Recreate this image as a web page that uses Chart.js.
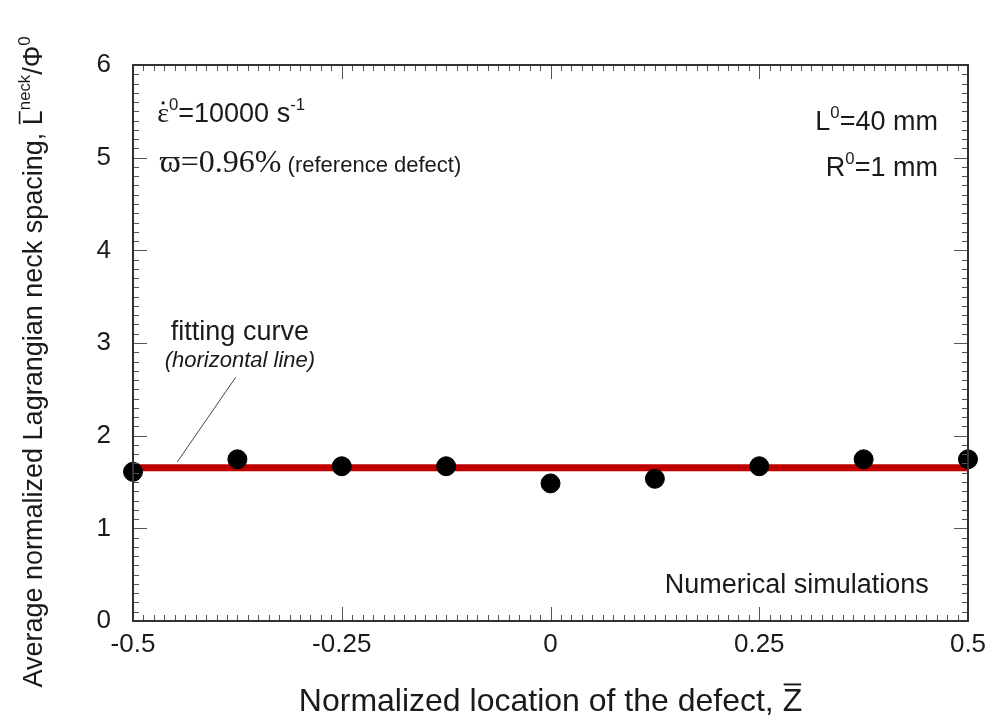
<!DOCTYPE html>
<html>
<head>
<meta charset="utf-8">
<script src="https://cdn.jsdelivr.net/npm/chart.js@4.4.1/dist/chart.umd.min.js"></script>
<style>
  html, body { margin: 0; padding: 0; background: #fff; }
  #wrap { width: 992px; height: 724px; }
</style>
</head>
<body>
<div id="wrap"><canvas id="myChart" width="992" height="724"></canvas></div>
<script>
// normalized defect location and simulated neck spacing
const zLocation = [-0.5, -0.375, -0.25, -0.125, 0, 0.125, 0.25, 0.375, 0.5];
const neckSpacing = [1.61, 1.745, 1.67, 1.67, 1.485, 1.535, 1.67, 1.745, 1.745];
// fitting curve (horizontal line)
const fitLevel = 1.655;
const fitRange = [-0.5, 0.5];
// axis ticks
const xTickValues = [-0.5, -0.25, 0, 0.25, 0.5];
const yTickValues = [0, 1, 2, 3, 4, 5, 6];

const SANS = "'Liberation Sans', Arial, sans-serif";
const SERIF = "'Liberation Serif', 'Times New Roman', serif";

// draw a line of text made of parts (superscript, overline, dot above)
function drawRich(ctx, x, y, parts, align) {
  const items = parts.map((p) => {
    const fs = p.sup ? p.size * 0.62 : p.size;
    const font = (p.italic ? "italic " : "") + fs + "px " + (p.family || SANS);
    ctx.font = font;
    return { ...p, font, w: ctx.measureText(p.t).width };
  });
  const total = items.reduce((a, b) => a + b.w, 0);
  let cx = x;
  if (align === "right") cx = x - total;
  if (align === "center") cx = x - total / 2;
  ctx.textBaseline = "alphabetic";
  ctx.textAlign = "left";
  items.forEach((it) => {
    ctx.font = it.font;
    const dy = it.sup ? -it.size * 0.45 : 0;
    ctx.fillText(it.t, cx, y + dy);
    if (it.over) {
      ctx.fillRect(cx + 1, y - it.size * 0.86, it.w - 2, Math.max(1.3, it.size * 0.06));
    }
    if (it.dot) {
      ctx.beginPath();
      ctx.arc(cx + it.w / 2, y - it.size * 0.68, 1.6, 0, Math.PI * 2);
      ctx.fill();
    }
    cx += it.w;
  });
}

const frameAndText = {
  id: "frameAndText",
  afterDatasetsDraw(chart) {
    const { ctx, chartArea: a, scales } = chart;
    const xs = scales.x, ys = scales.y;
    const px = (v) => xs.getPixelForValue(v);
    const py = (v) => ys.getPixelForValue(v);
    ctx.save();
    // inward ticks on all four sides
    ctx.strokeStyle = "#555";
    ctx.lineWidth = 1;
    ctx.beginPath();
    for (let i = 0; i <= 80; i++) {
      const x = Math.round(px(-0.5 + i * 0.0125)) + 0.5;
      const len = i % 20 === 0 ? 14 : 6;
      ctx.moveTo(x, a.bottom); ctx.lineTo(x, a.bottom - len);
      ctx.moveTo(x, a.top); ctx.lineTo(x, a.top + len);
    }
    for (let i = 0; i <= 60; i++) {
      const y = Math.round(py(i * 0.1)) + 0.5;
      const len = i % 10 === 0 ? 14 : 6;
      ctx.moveTo(a.left, y); ctx.lineTo(a.left + len, y);
      ctx.moveTo(a.right, y); ctx.lineTo(a.right - len, y);
    }
    ctx.stroke();
    ctx.strokeStyle = "#333";
    ctx.lineWidth = 2;
    ctx.strokeRect(a.left, a.top, a.right - a.left, a.bottom - a.top);

    // leader line to fitting curve
    ctx.strokeStyle = "#444";
    ctx.lineWidth = 1;
    ctx.beginPath();
    ctx.moveTo(px(-0.377), py(2.63));
    ctx.lineTo(px(-0.447), py(1.716));
    ctx.stroke();

    ctx.fillStyle = "#1a1a1a";
    drawRich(ctx, px(-0.471), py(5.385), [
      { t: "ε", size: 28, family: SERIF, dot: true },
      { t: "0", size: 27, sup: true },
      { t: "=10000 s", size: 27 },
      { t: "-1", size: 27, sup: true },
    ], "left");
    drawRich(ctx, px(-0.468), py(4.845), [
      { t: "ϖ=0.96%", size: 32, family: SERIF },
      { t: " (reference defect)", size: 22 },
    ], "left");
    drawRich(ctx, px(0.464), py(5.30), [
      { t: "L", size: 27 }, { t: "0", size: 27, sup: true }, { t: "=40 mm", size: 27 },
    ], "right");
    drawRich(ctx, px(0.464), py(4.80), [
      { t: "R", size: 27 }, { t: "0", size: 27, sup: true }, { t: "=1 mm", size: 27 },
    ], "right");
    drawRich(ctx, px(-0.372), py(3.03), [{ t: "fitting curve", size: 27 }], "center");
    drawRich(ctx, px(-0.372), py(2.74), [{ t: "(horizontal line)", size: 22, italic: true }], "center");
    drawRich(ctx, px(0.453), py(0.30), [{ t: "Numerical simulations", size: 27 }], "right");

    // axis titles
    drawRich(ctx, (a.left + a.right) / 2, 711, [
      { t: "Normalized location of the defect, ", size: 32 },
      { t: "Z", size: 32, over: true },
    ], "center");
    ctx.save();
    ctx.translate(42, 362);
    ctx.rotate(-Math.PI / 2);
    drawRich(ctx, 0, 0, [
      { t: "Average normalized Lagrangian neck spacing, ", size: 27 },
      { t: "L", size: 27, over: true },
      { t: "neck", size: 27, sup: true },
      { t: "/Φ", size: 27 },
      { t: "0", size: 27, sup: true },
    ], "center");
    ctx.restore();
    ctx.restore();
  },
};

const ctx = document.getElementById("myChart").getContext("2d");
new Chart(ctx, {
  type: "scatter",
  data: {
    datasets: [
      {
        label: "Numerical simulations",
        data: zLocation.map((z, i) => ({ x: z, y: neckSpacing[i] })),
        backgroundColor: "#000",
        borderColor: "#000",
        pointRadius: 9.5,
        pointHoverRadius: 9.5,
        clip: false,
        order: 0,
      },
      {
        type: "line",
        label: "fitting curve",
        data: fitRange.map((z) => ({ x: z, y: fitLevel })),
        borderColor: "#c00000",
        borderWidth: 7,
        pointRadius: 0,
        clip: false,
        order: 1,
      },
    ],
  },
  options: {
    responsive: false,
    animation: false,
    layout: { padding: { left: 0, top: 65, right: 24, bottom: 0 } },
    plugins: { legend: { display: false }, tooltip: { enabled: false } },
    scales: {
      x: {
        type: "linear",
        min: -0.5,
        max: 0.5,
        afterBuildTicks: (s) => { s.ticks = xTickValues.map((v) => ({ value: v })); },
        afterFit: (s) => {
          s.height = 103;
          s.paddingLeft = 0;
          s.paddingRight = 0;
        },
        grid: { display: false, drawTicks: false },
        border: { display: false },
        ticks: {
          padding: 8,
          maxRotation: 0,
          color: "#1a1a1a",
          font: { family: SANS, size: 26 },
          callback: (v) => String(v),
        },
      },
      y: {
        type: "linear",
        min: 0,
        max: 6,
        afterBuildTicks: (s) => { s.ticks = yTickValues.map((v) => ({ value: v })); },
        afterFit: (s) => {
          s.width = 133;
          s.paddingTop = 0;
          s.paddingBottom = 0;
        },
        grid: { display: false, drawTicks: false },
        border: { display: false },
        ticks: {
          padding: 22,
          color: "#1a1a1a",
          font: { family: SANS, size: 26 },
          callback: (v) => String(v),
        },
      },
    },
  },
  plugins: [frameAndText],
});
</script>
</body>
</html>
